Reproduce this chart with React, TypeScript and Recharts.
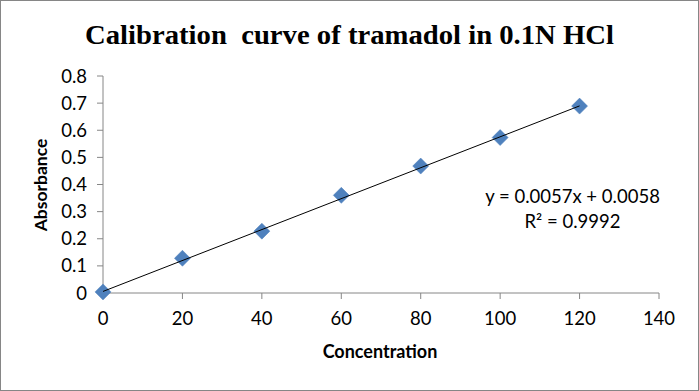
import React from "react";
import {
  ScatterChart,
  Scatter,
  XAxis,
  YAxis,
} from "recharts";

const concentrations = [0, 20, 40, 60, 80, 100, 120];
const absorbances = [0.004, 0.128, 0.228, 0.36, 0.468, 0.573, 0.689];
const xTicks = [0, 20, 40, 60, 80, 100, 120, 140];
const yTicks = [0, 0.1, 0.2, 0.3, 0.4, 0.5, 0.6, 0.7, 0.8];
const slope = 0.0057;
const intercept = 0.0058;
const trendX = [0, 120];

const points = concentrations.map((x, i) => ({ x, y: absorbances[i] }));
const trend = trendX.map((x) => ({ x, y: slope * x + intercept }));

const FONT = "Lato, 'Open Sans', sans-serif";
const AXIS = "#868686";

const Diamond = (props: any) => {
  const { cx, cy } = props;
  const r = 8;
  return (
    <polygon
      points={`${cx},${cy - r} ${cx + r},${cy} ${cx},${cy + r} ${cx - r},${cy}`}
      fill="#4F81BD"
      stroke="#4F81BD"
      strokeWidth={0.5}
    />
  );
};

const NoShape = () => null;

export default function App() {
  return (
    <div style={{ position: "absolute", left: 0, top: 0, width: 699, height: 391, background: "#fff" }}>
      <ScatterChart
        width={699}
        height={391}
        margin={{ top: 76, right: 40, bottom: 38, left: 43 }}
      >
        <rect x={0.5} y={0.5} width={698} height={390} fill="#fff" stroke={AXIS} strokeWidth={1} />
        <text
          x={349.5}
          y={44}
          textAnchor="middle"
          textLength={529}
          lengthAdjust="spacingAndGlyphs"
          style={{ fontFamily: "'Liberation Serif', 'Times New Roman', serif", fontWeight: 700, fontSize: 28, whiteSpace: "pre" }}
          fill="#000"
        >
          Calibration  curve of tramadol in 0.1N HCl
        </text>
        <XAxis
          type="number"
          dataKey="x"
          domain={[0, 140]}
          ticks={xTicks}
          interval={0}
          height={60}
          stroke={AXIS}
          tickSize={6}
          tickMargin={13}
          tick={{ fill: "#000", fontSize: 18.5, fontFamily: FONT }}
          tickLine={{ stroke: AXIS }}
          axisLine={{ stroke: AXIS }}
        />
        <YAxis
          type="number"
          dataKey="y"
          domain={[0, 0.8]}
          ticks={yTicks}
          interval={0}
          width={60}
          stroke={AXIS}
          tickSize={6}
          tickMargin={10}
          tickFormatter={(v: number) => (v === 0 ? "0" : v.toFixed(1))}
          tick={{ fill: "#000", fontSize: 18.5, fontFamily: FONT }}
          tickLine={{ stroke: AXIS }}
          axisLine={{ stroke: AXIS }}
        />
        <Scatter data={points} shape={<Diamond />} isAnimationActive={false} />
        <Scatter
          data={trend}
          line={{ stroke: "#000", strokeWidth: 1 }}
          shape={<NoShape />}
          isAnimationActive={false}
        />
        <text
          x={380}
          y={358}
          textAnchor="middle"
          style={{ fontFamily: FONT, fontWeight: 700, fontSize: 18 }}
          fill="#000"
        >
          Concentration
        </text>
        <text
          x={0}
          y={0}
          transform="translate(47,185) rotate(-90)"
          textAnchor="middle"
          style={{ fontFamily: FONT, fontWeight: 700, fontSize: 17.5 }}
          fill="#000"
        >
          Absorbance
        </text>
        <text
          x={572.5}
          y={203}
          textAnchor="middle"
          style={{ fontFamily: FONT, fontSize: 18.5 }}
          fill="#000"
        >
          y = 0.0057x + 0.0058
        </text>
        <text
          x={572.5}
          y={228}
          textAnchor="middle"
          style={{ fontFamily: FONT, fontSize: 18.5 }}
          fill="#000"
        >
          R² = 0.9992
        </text>
      </ScatterChart>
    </div>
  );
}
